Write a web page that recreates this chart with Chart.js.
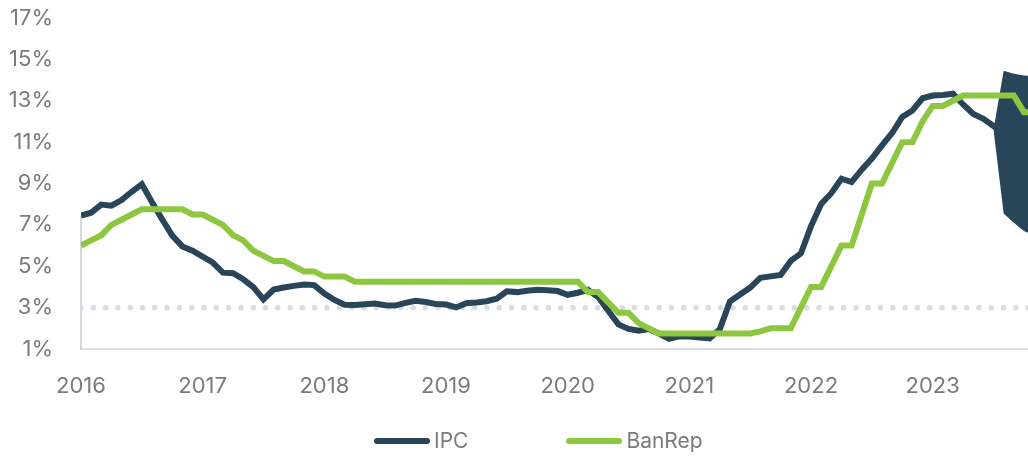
<!DOCTYPE html>
<html>
<head>
<meta charset="utf-8">
<script src="https://cdn.jsdelivr.net/npm/chart.js@4.4.1/dist/chart.umd.min.js"></script>
<style>
  html, body { margin: 0; padding: 0; background: #fff; }
  #wrap { position: relative; width: 1028px; height: 456px; font-family: Inter, sans-serif; }
  #legend { position: absolute; left: 374px; top: 428px; display: flex; align-items: center; color: #7b7b7b; font-size: 21px; line-height: 26px; }
  .item { display: flex; align-items: center; }
  .item + .item { margin-left: 98px; }
  .swatch { width: 56px; height: 6px; border-radius: 3px; margin-right: 4px; }
</style>
</head>
<body>
<div id="wrap">
  <canvas id="chart" width="1028" height="456"></canvas>
  <div id="legend"></div>
</div>
<script>
const NAVY = '#29455a';
const GREEN = '#8dc63f';

const YEARS = ['2016', '2017', '2018', '2019', '2020', '2021', '2022', '2023'];

// monthly, Jan 2016 onward
const IPC = [
  7.45, 7.59, 7.98, 7.93, 8.20, 8.60, 8.97, 8.10, 7.27, 6.48, 5.96, 5.75,
  5.47, 5.18, 4.69, 4.66, 4.37, 3.99, 3.40, 3.87, 3.97, 4.05, 4.12, 4.09,
  3.68, 3.37, 3.14, 3.13, 3.16, 3.20, 3.12, 3.10, 3.23, 3.33, 3.27, 3.18,
  3.15, 3.01, 3.21, 3.25, 3.31, 3.43, 3.79, 3.75, 3.82, 3.86, 3.84, 3.80,
  3.62, 3.72, 3.86, 3.51, 2.85, 2.19, 1.97, 1.88, 1.97, 1.75, 1.49, 1.61,
  1.60, 1.56, 1.51, 1.95, 3.30, 3.63, 3.97, 4.44, 4.51, 4.58, 5.26, 5.62,
  6.94, 8.01, 8.53, 9.23, 9.07, 9.67, 10.21, 10.84, 11.44, 12.22, 12.53, 13.12,
  13.25, 13.28, 13.34, 12.82, 12.36, 12.13, 11.78, 11.43
];

const BANREP = [
  6.00, 6.25, 6.50, 7.00, 7.25, 7.50, 7.75, 7.75, 7.75, 7.75, 7.75, 7.50,
  7.50, 7.25, 7.00, 6.50, 6.25, 5.75, 5.50, 5.25, 5.25, 5.00, 4.75, 4.75,
  4.50, 4.50, 4.50, 4.25, 4.25, 4.25, 4.25, 4.25, 4.25, 4.25, 4.25, 4.25,
  4.25, 4.25, 4.25, 4.25, 4.25, 4.25, 4.25, 4.25, 4.25, 4.25, 4.25, 4.25,
  4.25, 4.25, 3.75, 3.75, 3.25, 2.75, 2.75, 2.25, 2.00, 1.75, 1.75, 1.75,
  1.75, 1.75, 1.75, 1.75, 1.75, 1.75, 1.75, 1.85, 2.00, 2.00, 2.00, 3.00,
  4.00, 4.00, 5.00, 6.00, 6.00, 7.50, 9.00, 9.00, 10.00, 11.00, 11.00, 12.00,
  12.75, 12.75, 13.00, 13.25, 13.25, 13.25, 13.25, 13.25, 13.25, 12.45, 12.45
];

// forecast band, starting at month index 90
const FAN_START = 90;
const FAN_UPPER = [11.6, 14.45, 14.30, 14.22, 14.20];
const FAN_LOWER = [11.6, 7.55, 7.10, 6.70, 6.50];

const TARGET = 3;
const X_MAX = 93.4;

const pts = (arr, start = 0) => arr.map((v, i) => ({ x: start + i, y: v }));
const targetLine = BANREP.map((_, i) => ({ x: i, y: TARGET }));

const tickFont = { family: 'Inter', size: 22 };

// thin y axis line from the first IPC point down to the x axis
const startLine = {
  id: 'startLine',
  beforeDatasetsDraw(chart) {
    const { ctx, scales: { x, y } } = chart;
    const px = x.getPixelForValue(0);
    ctx.save();
    ctx.strokeStyle = '#aab5c0';
    ctx.lineWidth = 1;
    ctx.beginPath();
    ctx.moveTo(px, y.getPixelForValue(IPC[0]));
    ctx.lineTo(px, chart.chartArea.bottom);
    ctx.stroke();
    ctx.restore();
  }
};

new Chart(document.getElementById('chart'), {
  type: 'line',
  data: {
    datasets: [
      { label: 'IPC', data: pts(IPC), borderColor: NAVY, borderWidth: 6, pointRadius: 0, fill: false, order: 3 },
      { label: 'BanRep', data: pts(BANREP), borderColor: GREEN, borderWidth: 6, pointRadius: 0, fill: false, order: 0 },
      { label: 'upper', data: pts(FAN_UPPER, FAN_START), borderWidth: 0, pointRadius: 0, fill: '+1', backgroundColor: NAVY, order: 1 },
      { label: 'lower', data: pts(FAN_LOWER, FAN_START), borderWidth: 0, pointRadius: 0, fill: false, order: 2 },
      { label: 'meta', data: targetLine, borderColor: '#d9dde1', borderWidth: 5.5, borderDash: [0, 12.3], borderCapStyle: 'round', pointRadius: 0, fill: false, order: 4 }
    ]
  },
  options: {
    responsive: false,
    animation: false,
    devicePixelRatio: 1,
    layout: { padding: { top: 18, right: 0, bottom: 36, left: 0 } },
    plugins: { legend: { display: false }, tooltip: { enabled: false } },
    scales: {
      x: {
        type: 'linear',
        min: 0,
        max: X_MAX,
        afterBuildTicks: s => { s.ticks = YEARS.map((_, i) => ({ value: i * 12 })); },
        afterFit: s => { s.height = 71; s.paddingLeft = 0; s.paddingRight = 0; },
        ticks: { callback: v => YEARS[v / 12], color: '#7b7b7b', font: tickFont, padding: 24, maxRotation: 0 },
        grid: { display: false, drawTicks: false },
        border: { color: '#e0e0e0', width: 2 }
      },
      y: {
        min: 1,
        max: 17,
        afterFit: s => { s.width = 81; s.paddingTop = 0; s.paddingBottom = 0; },
        ticks: { stepSize: 2, callback: v => v + '%', color: '#7b7b7b', font: tickFont, padding: 28 },
        grid: { display: false, drawTicks: false },
        border: { display: false }
      }
    }
  },
  plugins: [startLine]
});

// legend
const legend = document.getElementById('legend');
[['IPC', NAVY], ['BanRep', GREEN]].forEach(([name, color]) => {
  const item = document.createElement('div');
  item.className = 'item';
  item.innerHTML = `<span class="swatch" style="background:${color}"></span><span>${name}</span>`;
  legend.appendChild(item);
});
</script>
</body>
</html>
